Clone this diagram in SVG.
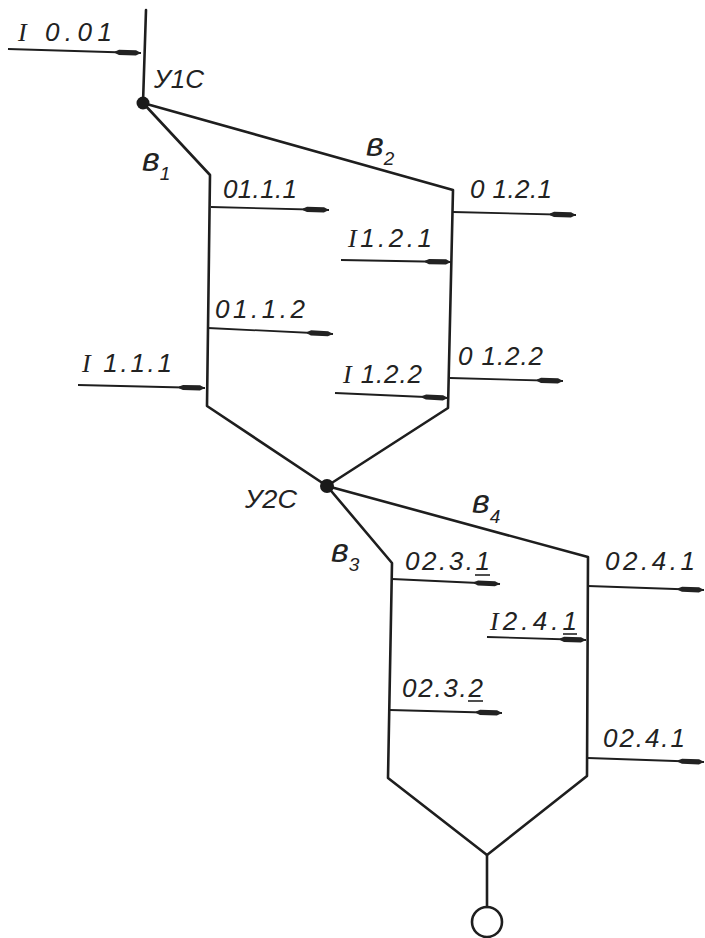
<svg xmlns="http://www.w3.org/2000/svg" width="705" height="938" viewBox="0 0 705 938">
<defs>
<marker id="ah" markerUnits="userSpaceOnUse" viewBox="-28 -4 30 8" refX="0" refY="0" markerWidth="30" markerHeight="8" orient="auto">
<path d="M-26,-0.8 L-22,-2.6 L-5,-2.6 L0,0 L-5,2.6 L-22,2.6 L-26,0.8 Z" fill="#222"/>
</marker>
<style>
.ln{fill:none;stroke:#1e1e1e;stroke-width:2.6;stroke-linecap:round;stroke-linejoin:round}
.st{fill:none;stroke:#1e1e1e;stroke-width:1.8;marker-end:url(#ah)}
.tx{font-family:"Liberation Sans",Arial,sans-serif;font-style:italic;font-size:26px;fill:#222}
.ser{font-family:"Liberation Serif","Times New Roman",serif;font-style:italic}
.br{font-family:"Liberation Sans",Arial,sans-serif;font-style:italic;font-size:34px;fill:#222}
.sub{font-size:19px}
.ul{stroke:#222;stroke-width:1.6}
.dot{fill:#1a1a1a}
</style>
</defs>
<rect width="705" height="938" fill="#ffffff"/>

<g id="connectors">
<path class="ln" d="M146,10 L143,103"/>
<path class="ln" d="M143,103 L210,175 L207,406 L327,486"/>
<path class="ln" d="M143,103 L453,190 L448,408 L327,486"/>
<path class="ln" d="M327,486 L392,563 L388,778 L487,855 L487,907"/>
<path class="ln" d="M327,486 L588,557 L587,776 L487,855"/>
</g>

<g id="node-u1c">
<circle class="dot" cx="143" cy="103" r="6.5"/>
<text class="tx" x="154" y="88" textLength="50" lengthAdjust="spacingAndGlyphs">У1С</text>
</g>
<g id="node-u2c">
<circle class="dot" cx="327" cy="486" r="7"/>
<text class="tx" x="245" y="508" textLength="52" lengthAdjust="spacingAndGlyphs">У2С</text>
</g>
<g id="node-outlet">
<circle cx="487" cy="922" r="15" fill="none" stroke="#1e1e1e" stroke-width="2.6"/>
</g>

<g id="branch-labels">
<text class="br" x="142" y="171">в<tspan class="sub" dy="9">1</tspan></text>
<text class="br" x="366" y="156">в<tspan class="sub" dy="9">2</tspan></text>
<text class="br" x="331" y="562">в<tspan class="sub" dy="9">3</tspan></text>
<text class="br" x="472" y="513">в<tspan class="sub" dy="10">4</tspan></text>
</g>

<g id="streams">
<g id="s-I0.01">
<line class="st" x1="8" y1="49" x2="141" y2="53"/>
<text class="tx" x="18" y="41" textLength="94"><tspan class="ser">I</tspan> 0.01</text>
</g>
<g id="s-01.1.1">
<line class="st" x1="211" y1="207" x2="329" y2="210"/>
<text class="tx" x="223" y="198" textLength="74">01.1.1</text>
</g>
<g id="s-01.1.2">
<line class="st" x1="208" y1="328" x2="333" y2="334"/>
<text class="tx" x="215" y="318" textLength="90">01.1.2</text>
</g>
<g id="s-I1.1.1">
<line class="st" x1="78" y1="385" x2="205" y2="388"/>
<text class="tx" x="82" y="372" textLength="90"><tspan class="ser">I</tspan> 1.1.1</text>
</g>
<g id="s-01.2.1">
<line class="st" x1="453" y1="212" x2="576" y2="215"/>
<text class="tx" x="470" y="198" textLength="82">0 1.2.1</text>
</g>
<g id="s-I1.2.1">
<line class="st" x1="341" y1="260" x2="451" y2="262"/>
<text class="tx" x="348" y="247" textLength="84"><tspan class="ser">I</tspan>1.2.1</text>
</g>
<g id="s-01.2.2">
<line class="st" x1="450" y1="378" x2="563" y2="381"/>
<text class="tx" x="458" y="365" textLength="85">0 1.2.2</text>
</g>
<g id="s-I1.2.2">
<line class="st" x1="335" y1="393" x2="448" y2="398"/>
<text class="tx" x="343" y="383" textLength="79"><tspan class="ser">I</tspan> 1.2.2</text>
</g>
<g id="s-02.3.1">
<line class="st" x1="392" y1="579" x2="500" y2="584"/>
<text class="tx" x="405" y="570" textLength="85">02.3.1</text>
<line class="ul" x1="475" y1="575" x2="490" y2="575"/>
</g>
<g id="s-02.4.1a">
<line class="st" x1="588" y1="586" x2="704" y2="590"/>
<text class="tx" x="605" y="570" textLength="90">02.4.1</text>
</g>
<g id="s-I2.4.1">
<line class="st" x1="487" y1="637" x2="586" y2="640"/>
<text class="tx" x="490" y="630" textLength="87"><tspan class="ser">I</tspan>2.4.1</text>
<line class="ul" x1="563" y1="634" x2="577" y2="634"/>
</g>
<g id="s-02.3.2">
<line class="st" x1="390" y1="710" x2="502" y2="713"/>
<text class="tx" x="402" y="697" textLength="81">02.3.2</text>
<line class="ul" x1="468" y1="701" x2="483" y2="701"/>
</g>
<g id="s-02.4.1b">
<line class="st" x1="588" y1="758" x2="704" y2="762"/>
<text class="tx" x="603" y="747" textLength="82">02.4.1</text>
</g>
</g>
</svg>
